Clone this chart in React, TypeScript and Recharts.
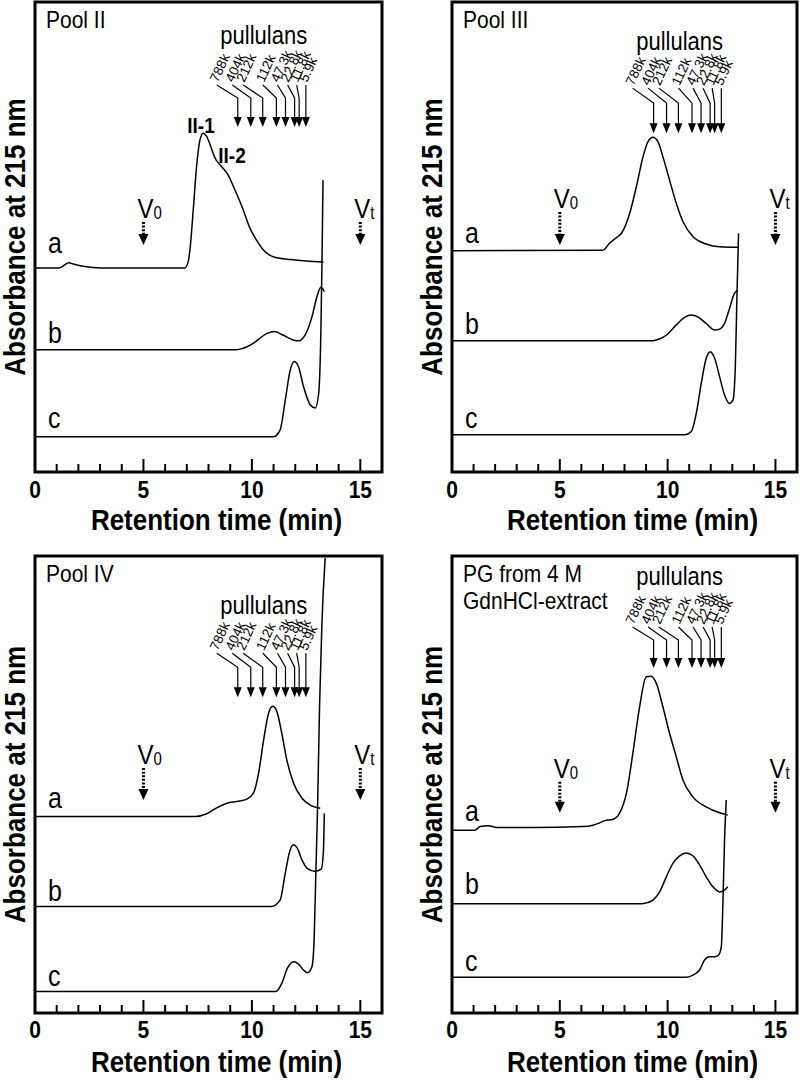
import React from 'react'
import { LineChart, Line, XAxis, YAxis, ReferenceArea, ReferenceDot } from 'recharts'

const FONT = '"Liberation Sans", Arial, Helvetica, sans-serif'
// the source figure is a little taller than wide, so text is stretched vertically
const STRETCH = 1.17

// retention times (min) of the pullulan standards and their labels
const PULLULAN_T = [9.35, 9.95, 10.5, 11.13, 11.55, 11.97, 12.18, 12.49]
const PULLULAN_LABELS = ['788k', '404k', '212k', '112k', '47.3k', '22.8k', '11.8k', '5.9k']
const V0_T = 5
const VT_T = 15
const X_TICKS = [0, 1, 2, 3, 4, 5, 6, 7, 8, 9, 10, 11, 12, 13, 14, 15]
const TRACE_NAMES = ['a', 'b', 'c']

// traces: [retention time, absorbance (offset, arbitrary units 0-100)]
const POOL2_A = [[0, 43.4], [1.1, 43.4], [1.35, 44.0], [1.55, 44.5], [1.8, 44.2], [2.3, 43.7], [3, 43.4], [6.9, 43.4], [7.05, 44.5], [7.15, 47.5], [7.3, 56], [7.45, 65], [7.6, 70.5], [7.75, 72.1], [7.9, 71.5], [8.1, 69.3], [8.3, 66.8], [8.6, 65.0], [8.9, 63.2], [9.2, 60.2], [9.55, 56.4], [9.9, 52.0], [10.3, 48.7], [10.6, 46.9], [11.05, 45.7], [11.8, 45.2], [12.5, 44.9], [13.3, 44.7]]
const POOL2_B = [[0, 26.0], [9.2, 26.0], [9.5, 26.2], [9.8, 26.7], [10.1, 27.5], [10.7, 29.5], [11.03, 29.9], [11.45, 29.1], [11.9, 28.1], [12.15, 27.9], [12.45, 29.1], [12.77, 33.0], [13.0, 37.3], [13.18, 39.3], [13.34, 38.4]]
const POOL2_C = [[0, 7.5], [11.0, 7.5], [11.3, 8.9], [11.54, 15.3], [11.77, 21.7], [11.95, 23.5], [12.15, 22.4], [12.38, 18.2], [12.69, 14.3], [12.92, 13.6], [13.08, 16.7], [13.18, 29.5], [13.23, 43.7], [13.28, 62.1]]

const POOL3_A = [[0, 47.1], [7.0, 47.2], [7.31, 48.7], [7.63, 49.9], [7.86, 50.8], [8.24, 55.0], [8.55, 60.7], [8.86, 67.1], [9.09, 70.3], [9.32, 71.2], [9.55, 70.3], [9.78, 67.1], [10.09, 62.1], [10.4, 57.2], [10.71, 53.3], [11.17, 50.1], [11.79, 48.5], [12.41, 47.9], [13.26, 47.8]]
const POOL3_B = [[0, 27.9], [9.2, 27.9], [9.48, 28.1], [9.94, 29.1], [10.4, 31.3], [10.79, 32.9], [11.1, 33.4], [11.4, 33.0], [11.79, 31.6], [12.18, 30.2], [12.41, 30.4], [12.64, 31.6], [12.87, 34.8], [13.1, 38.0], [13.23, 38.6]]
const POOL3_C = [[0, 7.9], [10.8, 7.9], [11.1, 8.6], [11.33, 12.5], [11.56, 18.9], [11.79, 24.2], [11.98, 25.6], [12.18, 24.2], [12.41, 20.3], [12.64, 16.4], [12.87, 14.6], [13.03, 15.3], [13.14, 22.4], [13.21, 36.6], [13.29, 50.8]]

const POOL4_A = [[0, 43.0], [7.4, 43.0], [7.92, 43.6], [8.38, 44.9], [8.85, 45.9], [9.31, 46.3], [9.77, 46.8], [10.07, 48.1], [10.31, 52.5], [10.54, 59.7], [10.77, 65.6], [10.97, 67.1], [11.15, 66.0], [11.38, 61.2], [11.61, 55.4], [11.92, 50.3], [12.31, 47.0], [12.69, 45.5], [13.15, 44.8]]
const POOL4_B = [[0, 23.3], [10.9, 23.3], [11.3, 24.7], [11.54, 30.6], [11.74, 35.3], [11.92, 36.8], [12.1, 36.0], [12.31, 33.5], [12.54, 31.7], [12.9, 31.0], [13.2, 31.5], [13.3, 35.5], [13.34, 43.7]]
const POOL4_C = [[0, 4.7], [11.1, 4.7], [11.38, 6.5], [11.64, 9.8], [11.92, 11.2], [12.15, 10.7], [12.38, 9.4], [12.57, 8.8], [12.77, 10.1], [12.87, 16.0], [12.95, 30.6], [13.03, 45.1], [13.12, 67.0], [13.23, 85.3], [13.38, 99.6]]

const PG_A = [[0, 40.0], [1.06, 40.0], [1.3, 40.8], [1.68, 41.0], [2.07, 40.6], [3.76, 40.6], [6.08, 40.8], [6.54, 41.1], [6.85, 41.6], [7.08, 42.1], [7.47, 42.4], [7.78, 43.8], [8.09, 48.1], [8.39, 56.9], [8.7, 67.0], [9.01, 73.6], [9.24, 73.7], [9.48, 72.1], [9.78, 67.0], [10.09, 61.2], [10.4, 56.1], [10.71, 51.0], [11.17, 47.3], [11.79, 45.1], [12.41, 43.8], [12.79, 43.3]]
const PG_B = [[0, 23.9], [8.8, 23.9], [9.01, 24.1], [9.32, 24.7], [9.63, 26.5], [9.94, 29.8], [10.25, 32.8], [10.56, 34.4], [10.86, 35.0], [11.17, 34.4], [11.48, 32.4], [11.79, 29.8], [12.1, 27.6], [12.41, 26.5], [12.64, 26.9], [12.79, 27.6]]
const PG_C = [[0, 7.8], [10.86, 7.8], [11.17, 8.3], [11.48, 9.4], [11.71, 11.6], [11.94, 12.3], [12.18, 12.3], [12.37, 12.7], [12.49, 14.5], [12.56, 23.3], [12.64, 37.9], [12.72, 46.6]]

// pixel offsets of the leader lines from the arrows to the rotated labels
const LEADER_DX = [-21, -18.5, -19.5, -13.5, -8, -7, -2.5, 0]

const PANELS = [
  {
    id: 'p2', x: 0, y: 0, width: 400, height: 544,
    plot: { x: 35, y: 2, w: 347, h: 470 }, tickDy: 26, titleDy: 58,
    title: ['Pool II'],
    traces: [POOL2_A, POOL2_B, POOL2_C],
    traceLabelY: [251, 341, 426],
    peaks: [{ text: 'II-1', dx: 166, dy: 131 }, { text: 'II-2', dx: 197, dy: 161 }],
    pullTip: 73.4, pullVert: 29, pullRise: 13,
    vTip: 48.3, vLen: 23,
  },
  {
    id: 'p3', x: 400, y: 0, width: 400, height: 544,
    plot: { x: 52, y: 2, w: 345, h: 470 }, tickDy: 26, titleDy: 58,
    title: ['Pool III'],
    traces: [POOL3_A, POOL3_B, POOL3_C],
    traceLabelY: [241, 332, 426],
    peaks: [],
    pullTip: 72.1, pullVert: 30, pullRise: 15,
    vTip: 48.3, vLen: 33,
  },
  {
    id: 'p4', x: 0, y: 544, width: 400, height: 544,
    plot: { x: 35, y: 12, w: 347, h: 457 }, tickDy: 25, titleDy: 59,
    title: ['Pool IV'],
    traces: [POOL4_A, POOL4_B, POOL4_C],
    traceLabelY: [252, 345, 430],
    peaks: [],
    pullTip: 69.1, pullVert: 30, pullRise: 14,
    vTip: 46.6, vLen: 32,
  },
  {
    id: 'pg', x: 400, y: 544, width: 400, height: 544,
    plot: { x: 52, y: 12, w: 345, h: 457 }, tickDy: 25, titleDy: 59,
    title: ['PG from 4 M', 'GdnHCl-extract'],
    traces: [PG_A, PG_B, PG_C],
    traceLabelY: [265, 338, 415],
    peaks: [],
    pullTip: 75.5, pullVert: 28, pullRise: 13,
    vTip: 43.8, vLen: 31,
  },
]

const toPts = (arr: number[][]) => arr.map(([t, v]) => ({ t, v }))

// text stretched vertically about its baseline
function SText({ x, y, children, ...rest }: any) {
  return (
    <text transform={`translate(${x},${y}) scale(1,${STRETCH})`} x={0} y={0} fill="#000" {...rest}>
      {children}
    </text>
  )
}

function TimeTick(props: any) {
  const { x, y, payload, dy } = props
  const major = payload.value % 5 === 0
  return (
    <g>
      <line x1={x} x2={x} y1={y} y2={y - (major ? 13 : 8)} stroke="#000" strokeWidth={2} />
      {major && (
        <SText x={x} y={y + dy} textAnchor="middle" fontSize={21} fontWeight="bold">
          {payload.value}
        </SText>
      )}
    </g>
  )
}

function PullMark({ cx, cy, i, cfg }: any) {
  const dx = LEADER_DX[i]
  const top = cy - cfg.pullVert - cfg.pullRise
  return (
    <g>
      <polyline
        points={`${cx + dx},${top} ${cx},${cy - cfg.pullVert} ${cx},${cy - 9}`}
        fill="none" stroke="#000" strokeWidth={1.2}
      />
      <polygon points={`${cx - 4},${cy - 10} ${cx + 4},${cy - 10} ${cx},${cy}`} fill="#000" />
      <text transform={`translate(${cx + dx + 1},${top - 2}) rotate(-65)`} fontSize={13.5} fill="#000">
        {PULLULAN_LABELS[i]}
      </text>
    </g>
  )
}

function VoidMark({ cx, cy, sub, len }: any) {
  return (
    <g>
      <line x1={cx} x2={cx} y1={cy - len} y2={cy - 10} stroke="#000" strokeWidth={3} strokeDasharray="2 1.6" />
      <polygon points={`${cx - 5},${cy - 11} ${cx + 5},${cy - 11} ${cx},${cy}`} fill="#000" />
      <SText x={cx + 2} y={cy - len - 4} textAnchor="middle" fontSize={24}>V</SText>
      <SText x={cx + 10} y={cy - len - 3} fontSize={15}>{sub}</SText>
    </g>
  )
}

function CornerText({ cx, cy, cfg }: any) {
  const { plot } = cfg
  return (
    <g fill="#000">
      {cfg.title.map((s: string, k: number) => (
        <SText key={s} x={cx + 11} y={cy + 26 + k * 27} fontSize={21}>{s}</SText>
      ))}
      {cfg.traceLabelY.map((dy: number, k: number) => (
        <SText key={k} x={cx + 13} y={cy + dy} fontSize={25}>{TRACE_NAMES[k]}</SText>
      ))}
      {cfg.peaks.map((p: any) => (
        <SText key={p.text} x={cx + p.dx} y={cy + p.dy} textAnchor="middle" fontSize={19} fontWeight="bold">{p.text}</SText>
      ))}
      <text
        transform={`translate(${cx - 10},${cy + plot.h / 2}) rotate(-90) scale(1,1.12)`}
        textAnchor="middle" fontSize={26} fontWeight="bold"
      >
        Absorbance at 215 nm
      </text>
      <SText x={cx + plot.w / 2 + 8} y={cy + plot.h + cfg.titleDy} textAnchor="middle" fontSize={26} fontWeight="bold">
        Retention time (min)
      </SText>
    </g>
  )
}

function Panel({ cfg }: any) {
  const { plot } = cfg
  const margin = { top: plot.y, left: plot.x, right: cfg.width - plot.x - plot.w, bottom: 0 }
  return (
    <div style={{ position: 'absolute', left: cfg.x, top: cfg.y }}>
      <LineChart width={cfg.width} height={cfg.height} margin={margin}>
        <XAxis
          type="number" dataKey="t" domain={[0, 16]} ticks={X_TICKS} interval={0}
          axisLine={false} tickLine={false} tickSize={0} tickMargin={0}
          height={cfg.height - plot.y - plot.h} allowDataOverflow
          tick={(p: any) => <TimeTick {...p} dy={cfg.tickDy} />}
        />
        <YAxis type="number" domain={[0, 100]} width={0} axisLine={false} tickLine={false} tick={false} allowDataOverflow />
        {cfg.traces.map((tr: number[][], k: number) => (
          <Line
            key={k} data={toPts(tr)} dataKey="v" type="monotone"
            stroke="#000" strokeWidth={1.5} dot={false} isAnimationActive={false}
          />
        ))}
        <ReferenceArea x1={0} x2={16} y1={0} y2={100} fill="none" stroke="#000" strokeWidth={3} ifOverflow="visible" />
        {PULLULAN_T.map((t, i) => (
          <ReferenceDot
            key={'pm' + i} x={t} y={cfg.pullTip} ifOverflow="visible"
            shape={(p: any) => <PullMark cx={p.cx} cy={p.cy} i={i} cfg={cfg} />}
          />
        ))}
        <ReferenceDot
          x={PULLULAN_T[0]} y={cfg.pullTip} ifOverflow="visible"
          shape={(p: any) => (
            <SText x={p.cx + 26} y={p.cy - 83} textAnchor="middle" fontSize={22}>pullulans</SText>
          )}
        />
        <ReferenceDot
          x={V0_T} y={cfg.vTip} ifOverflow="visible"
          shape={(p: any) => <VoidMark cx={p.cx} cy={p.cy} sub="0" len={cfg.vLen} />}
        />
        <ReferenceDot
          x={VT_T} y={cfg.vTip} ifOverflow="visible"
          shape={(p: any) => <VoidMark cx={p.cx} cy={p.cy} sub="t" len={cfg.vLen} />}
        />
        <ReferenceDot
          x={0} y={100} ifOverflow="visible"
          shape={(p: any) => <CornerText cx={p.cx} cy={p.cy} cfg={cfg} />}
        />
      </LineChart>
    </div>
  )
}

export default function App() {
  return (
    <div style={{ position: 'absolute', left: 0, top: 0, width: 800, height: 1088, background: '#fff', fontFamily: FONT }}>
      {PANELS.map((cfg) => (
        <Panel key={cfg.id} cfg={cfg} />
      ))}
    </div>
  )
}
